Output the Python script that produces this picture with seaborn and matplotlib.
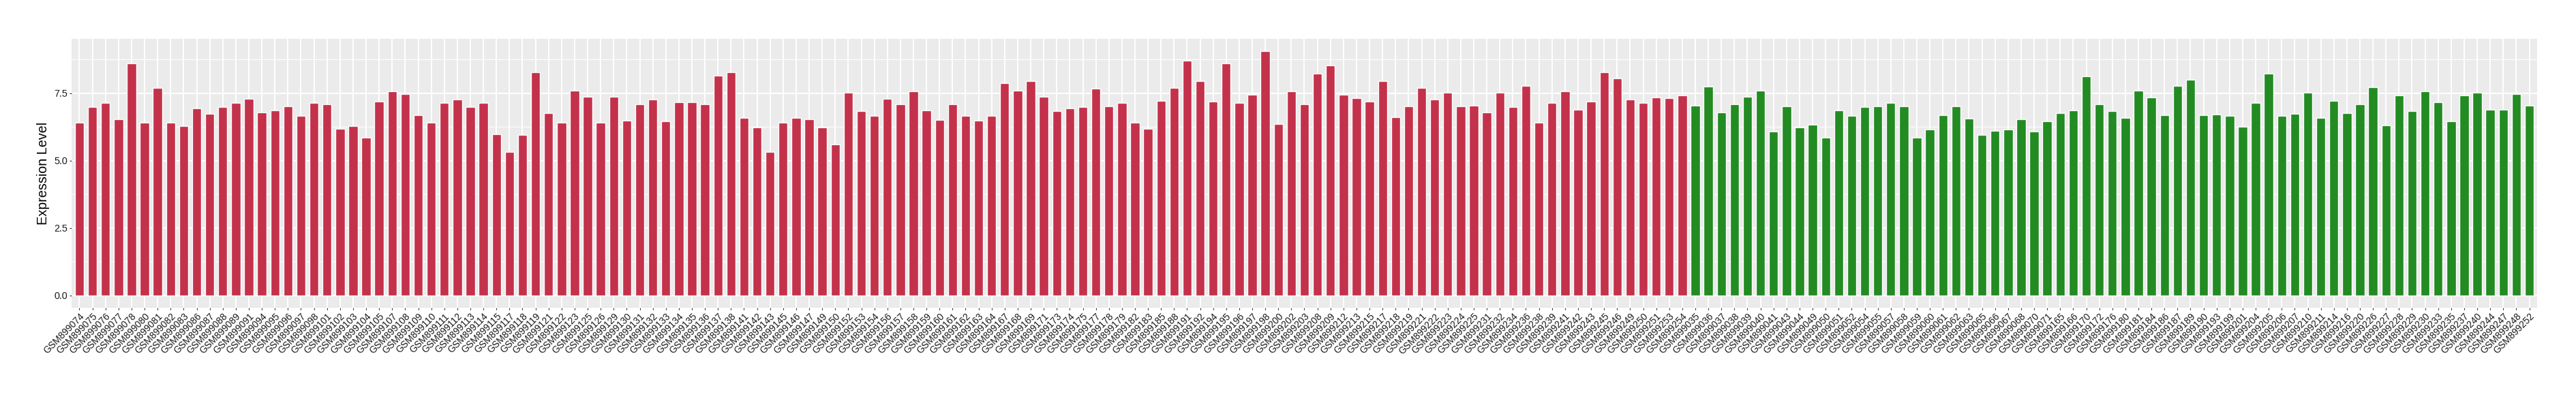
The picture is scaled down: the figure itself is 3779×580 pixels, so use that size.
import matplotlib
matplotlib.use("Agg")
import matplotlib.pyplot as plt
import seaborn as sns
import pandas as pd
from matplotlib.ticker import MultipleLocator, FormatStrFormatter

# ---------------- data ----------------
red_samples = [
    "GSM899074", "GSM899075", "GSM899076", "GSM899077", "GSM899078", "GSM899080", "GSM899081",
    "GSM899082", "GSM899083", "GSM899086", "GSM899087", "GSM899088", "GSM899089", "GSM899091",
    "GSM899094", "GSM899095", "GSM899096", "GSM899097", "GSM899098", "GSM899101", "GSM899102",
    "GSM899103", "GSM899104", "GSM899105", "GSM899107", "GSM899108", "GSM899109", "GSM899110",
    "GSM899111", "GSM899112", "GSM899113", "GSM899114", "GSM899115", "GSM899117", "GSM899118",
    "GSM899119", "GSM899121", "GSM899122", "GSM899123", "GSM899125", "GSM899126", "GSM899129",
    "GSM899130", "GSM899131", "GSM899132", "GSM899133", "GSM899134", "GSM899135", "GSM899136",
    "GSM899137", "GSM899138", "GSM899141", "GSM899142", "GSM899143", "GSM899145", "GSM899146",
    "GSM899147", "GSM899149", "GSM899150", "GSM899152",
    "GSM899153", "GSM899154", "GSM899156", "GSM899157", "GSM899158", "GSM899159", "GSM899160",
    "GSM899161", "GSM899162", "GSM899163", "GSM899164", "GSM899167", "GSM899168", "GSM899169",
    "GSM899171", "GSM899173", "GSM899174", "GSM899175", "GSM899177", "GSM899178", "GSM899179",
    "GSM899182", "GSM899183", "GSM899185", "GSM899188", "GSM899191", "GSM899192", "GSM899194",
    "GSM899195", "GSM899196", "GSM899197", "GSM899198",
    "GSM899200", "GSM899202", "GSM899203", "GSM899208", "GSM899209", "GSM899212", "GSM899213",
    "GSM899215", "GSM899217", "GSM899218", "GSM899219", "GSM899221", "GSM899222", "GSM899223",
    "GSM899224", "GSM899225", "GSM899231", "GSM899232", "GSM899234", "GSM899236", "GSM899238",
    "GSM899239", "GSM899241", "GSM899242", "GSM899243", "GSM899245", "GSM899246", "GSM899249",
    "GSM899250", "GSM899251", "GSM899253", "GSM899254",
]
red_values = [
    6.40, 6.98, 7.13, 6.54, 8.60, 6.40, 7.69, 6.41, 6.29, 6.95, 6.75, 6.98, 7.13, 7.30,
    6.80, 6.87, 7.02, 6.67, 7.13, 7.08, 6.19, 6.29, 5.86, 7.20, 7.56, 7.48, 6.69, 6.40,
    7.15, 7.28, 7.00, 7.15, 5.98, 5.33, 5.96, 8.27, 6.77, 6.40, 7.60, 7.38, 6.41, 7.38,
    6.49, 7.10, 7.28, 6.47, 7.17, 7.17, 7.08, 8.16, 8.27, 6.59, 6.24, 5.33, 6.41, 6.59,
    6.54, 6.22, 5.61, 7.53,
    6.83, 6.65, 7.30, 7.08, 7.58, 6.87, 6.52, 7.08, 6.67, 6.49, 6.65, 7.88, 7.60, 7.94,
    7.38, 6.83, 6.95, 7.00, 7.66, 7.02, 7.15, 6.40, 6.19, 7.23, 7.69, 8.72, 7.96, 7.20,
    8.60, 7.13, 7.45, 9.07,
    6.37, 7.58, 7.08, 8.24, 8.52, 7.45, 7.33, 7.20, 7.94, 6.62, 7.02, 7.69, 7.28, 7.51,
    7.02, 7.05, 6.80, 7.51, 7.00, 7.78, 6.41, 7.13, 7.58, 6.90, 7.20, 8.29, 8.06, 7.28,
    7.13, 7.35, 7.33, 7.43,
]

green_samples = [
    "GSM899035", "GSM899036", "GSM899037", "GSM899038", "GSM899039", "GSM899040", "GSM899041",
    "GSM899043", "GSM899044", "GSM899049", "GSM899050", "GSM899051", "GSM899052", "GSM899054",
    "GSM899055", "GSM899057", "GSM899058", "GSM899059", "GSM899060", "GSM899061", "GSM899062",
    "GSM899063", "GSM899065", "GSM899066", "GSM899067", "GSM899068", "GSM899070", "GSM899071",
    "GSM899165", "GSM899166", "GSM899170", "GSM899172", "GSM899176",
    "GSM899180", "GSM899181", "GSM899184", "GSM899186", "GSM899187", "GSM899189", "GSM899190",
    "GSM899193", "GSM899199", "GSM899201", "GSM899204", "GSM899205", "GSM899206", "GSM899207",
    "GSM899210", "GSM899211", "GSM899214", "GSM899216", "GSM899220", "GSM899226", "GSM899227",
    "GSM899228", "GSM899229", "GSM899230", "GSM899233", "GSM899235", "GSM899237", "GSM899240",
    "GSM899244", "GSM899247", "GSM899248", "GSM899252",
]
green_values = [
    7.05, 7.76, 6.80, 7.08, 7.38, 7.60, 6.09, 7.02, 6.24, 6.34, 5.86, 6.87, 6.67, 6.98,
    7.02, 7.13, 7.02, 5.86, 6.16, 6.69, 7.02, 6.57, 5.96, 6.11, 6.16, 6.54, 6.07, 6.47,
    6.77, 6.87, 8.12, 7.08, 6.84,
    6.59, 7.60, 7.35, 6.69, 7.78, 7.99, 6.69, 6.72, 6.67, 6.26, 7.13, 8.24, 6.65, 6.75,
    7.51, 6.59, 7.23, 6.77, 7.08, 7.71, 6.32, 7.41, 6.84, 7.56, 7.17, 6.47, 7.43, 7.51,
    6.90, 6.90, 7.48, 7.05,
]

group_names = ["red", "green"]
group_colors = {"red": "#C4314B", "green": "#228B22"}
y_label = "Expression Level"

# ---------------- build table ----------------
df = pd.DataFrame({
    "sample": red_samples + green_samples,
    "value": red_values + green_values,
    "group": [group_names[0]] * len(red_samples) + [group_names[1]] * len(green_samples),
})
order = list(df["sample"])

# ---------------- figure ----------------
sns.set_theme(style="darkgrid")
plt.rcParams["font.family"] = ["Liberation Sans", "DejaVu Sans"]

fig = plt.figure(figsize=(37.8, 5.8), dpi=100)
ax = fig.add_axes([105 / 3780, 128.3 / 580, (3722 - 105) / 3780, (451.7 - 56.7) / 580])

sns.barplot(data=df, x="sample", y="value", hue="group", order=order,
            hue_order=group_names, palette=group_colors, dodge=False,
            width=0.7, saturation=1, legend=False, ax=ax, zorder=3)

n = len(order)
ax.set_xlim(-0.6, n - 1 + 0.6)
vmax = df["value"].max()
ax.set_ylim(-0.05 * vmax, 1.05 * vmax)

ax.set_facecolor("#EBEBEB")
for s in ax.spines.values():
    s.set_visible(False)
ax.yaxis.set_major_locator(MultipleLocator(2.5))
ax.yaxis.set_minor_locator(MultipleLocator(1.25))
ax.grid(which="major", color="white", linewidth=1.4, zorder=0)
ax.grid(which="minor", axis="y", color="white", linewidth=0.7, zorder=0)
ax.set_axisbelow(True)

ax.yaxis.set_major_formatter(FormatStrFormatter("%.1f"))
ax.tick_params(axis="both", which="major", length=2.5, width=0.8, color="#333333",
               labelcolor="#1a1a1a", pad=1.6, left=True, bottom=True)
ax.tick_params(axis="y", which="major", labelsize=10.4)
ax.tick_params(axis="x", which="major", labelsize=10.0)
ax.tick_params(axis="y", which="minor", length=0)
plt.setp(ax.get_xticklabels(), rotation=45, ha="right", va="top",
         rotation_mode="anchor")

ax.set_xlabel("")
ax.set_ylabel(y_label, fontsize=14.2, color="black", labelpad=4.3)

fig.savefig("out.png", dpi=100, facecolor="white")
